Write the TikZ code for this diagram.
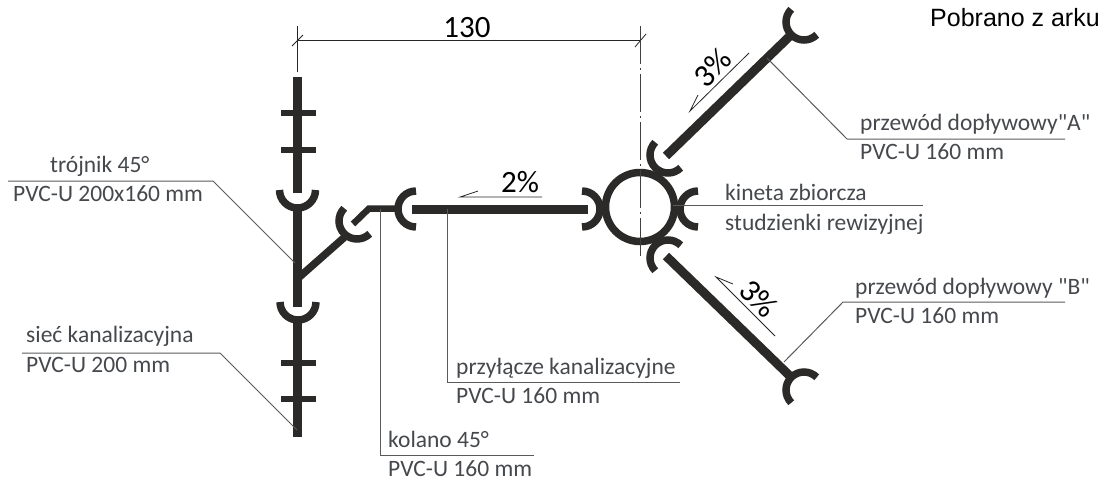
\documentclass[tikz,border=0pt]{standalone}
\usepackage{fontspec}
\setmainfont{Carlito}
\newfontfamily\labfont{Carlito}
\newfontfamily\arialfont{Liberation Sans}
\definecolor{pipec}{HTML}{2B2A29}
\definecolor{labelc}{HTML}{45484C}
\definecolor{leaderc}{HTML}{5A5A5A}
\tikzset{
  pipe/.style={draw=pipec,line width=9pt},
  thinpipe/.style={draw=pipec,line width=6.5pt},
  crossbar/.style={draw=pipec,line width=6pt},
  socket/.style={draw=pipec,line width=7.5pt},
  manhole/.style={draw=pipec,line width=7.5pt},
  leader/.style={draw=leaderc,line width=1pt},
  dimline/.style={draw=black!85,line width=0.8pt},
  axisline/.style={draw=black!75,line width=0.8pt,dash pattern=on 38pt off 4pt on 2pt off 4pt},
  lab/.style={anchor=base west,inner sep=0pt,text=labelc,font=\labfont\fontsize{23.5}{23.5}\selectfont},
  slope/.style={inner sep=0pt,text=black,font=\fontsize{31}{31}\selectfont},
  slopeang/.style={anchor=base,inner sep=0pt,text=black,font=\fontsize{32}{32}\selectfont},
}
\newcommand{\sock}[3]{\draw[socket] (#1,#2) ++(#3+90:18) arc[start angle=#3+90,end angle=#3+270,radius=18];}
\begin{document}
\begin{tikzpicture}[x=1pt,y=-1pt]
\useasboundingbox (0,0) rectangle (1098,488);
% main sewer
\draw[pipe] (297,77) -- (297,193);
\draw[pipe] (297,205) -- (297,307);
\draw[pipe] (297,318) -- (297,437);
\foreach \yy in {113,150,363,399} \draw[crossbar] (281,\yy) -- (316,\yy);
\sock{297.5}{190}{-90}
\sock{298}{302}{-90}
% branch
\draw[pipe,line width=7.5pt] (296,280) -- (347,235);
\sock{357}{221}{-45}
\draw[thinpipe] (353,224) -- (369,208.5) -- (398,208.5);
\sock{416}{209}{0}
\draw[pipe] (412,209) -- (588,209);
% manhole
\draw[manhole] (640,207) circle[radius=34.5];
\sock{582}{209}{180}
\sock{698}{209}{0}
\sock{668}{155}{-45}
\sock{668}{258}{45}
% inlets
\draw[pipe] (666,156) -- (793,33);
\sock{804}{22}{-45}
\draw[pipe] (666,256) -- (793,379);
\sock{804}{390}{45}
% dimension
\draw[dimline] (297,26) -- (297,72);
\draw[dimline] (297,40.5) -- (640,40.5);
\draw[dimline] (292,46) -- (303,35);
\draw[dimline] (635,47) -- (646,34);
\draw[axisline] (640,26) -- (640,258);
\node[slope,anchor=base] (dimtext) at (467,37) {130};
% slopes
\draw[dimline] (542,197) -- (460,197) -- (478,191);
\node[slope,anchor=base] (slope2) at (520,192) {2\%};
\draw[dimline] (749,53) -- (690,111) -- (698,95);
\node[slopeang,rotate=45] (slopea) at (720,75.5) {3\%};
\draw[dimline] (775,336) -- (716,277) -- (733,284);
\node[slopeang,rotate=-45] (slopeb) at (751,306) {3\%};
% leaders and labels
\draw[leader] (8,181) -- (213,181) -- (295,263);
\node[lab] (t1) at (50,172) {trójnik 45°};
\node[lab] (t2) at (13,201.5) {PVC-U 200x160 mm};
\draw[leader] (22,353) -- (220,353) -- (297,430);
\node[lab] (s1) at (26,342) {sieć kanalizacyjna};
\node[lab] (s2) at (26,372) {PVC-U 200 mm};
\draw[leader] (380,209) -- (380,455) -- (534,455);
\node[lab] (k1) at (388,447) {kolano 45°};
\node[lab] (k2) at (388,476) {PVC-U 160 mm};
\draw[leader] (447,209) -- (447,382.5) -- (680,382.5);
\node[lab] (p1) at (456,374) {przyłącze kanalizacyjne};
\node[lab] (p2) at (456,403) {PVC-U 160 mm};
\draw[leader] (767,58) -- (847,139) -- (1065,139);
\node[lab] (a1) at (860,130) {przewód dopływowy"A"};
\node[lab] (a2) at (860,159) {PVC-U 160 mm};
\draw[leader] (673,205) -- (923,205);
\node[lab] (b1) at (725,200.5) {kineta zbiorcza};
\node[lab] (b2) at (725,230) {studzienki rewizyjnej};
\draw[leader] (784,362) -- (843,302) -- (1065,302);
\node[lab] (c1) at (855,294) {przewód dopływowy "B"};
\node[lab] (c2) at (855,323) {PVC-U 160 mm};
\node[anchor=base west,inner sep=0pt,text=black,font=\arialfont\fontsize{25}{25}\selectfont] (src) at (930,26) {Pobrano z arku};
\end{tikzpicture}
\end{document}
